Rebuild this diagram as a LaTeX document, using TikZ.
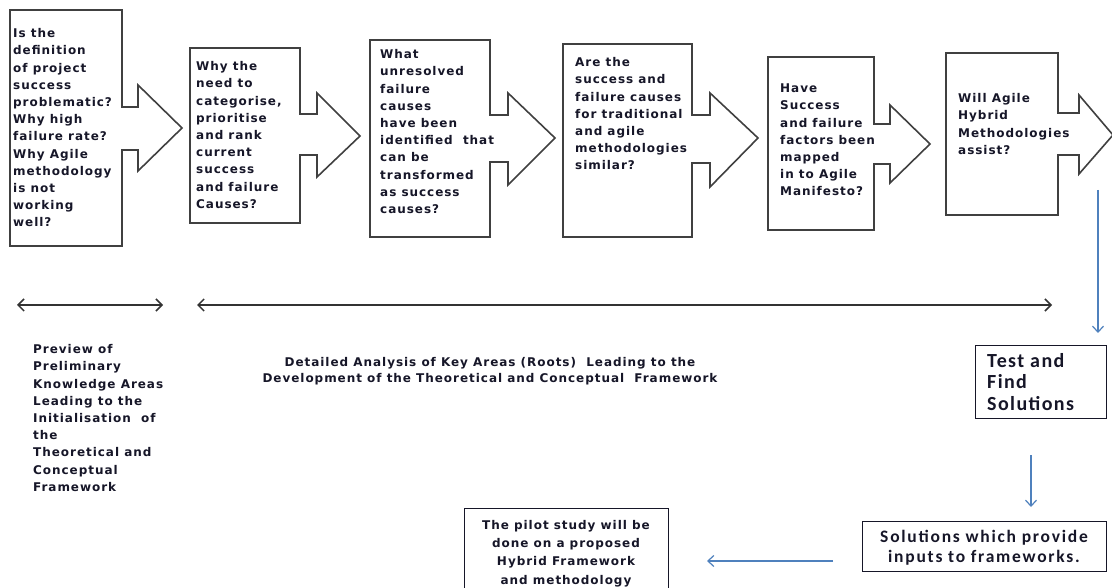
\documentclass[tikz,border=0pt]{standalone}
\usepackage{fontspec}
\setmainfont{DejaVu Sans}
\newfontfamily\vfont[LetterSpace=8]{DejaVu Sans}
\newfontfamily\cfont[LetterSpace=7]{Carlito}
\newfontfamily\sfont[LetterSpace=10]{Carlito}
\usetikzlibrary{arrows.meta}
\definecolor{txt}{RGB}{22,22,40}
\definecolor{outl}{RGB}{64,64,64}
\definecolor{blueline}{RGB}{79,129,189}
\newcommand{\fl}{\rule{0pt}{10pt}}
\tikzset{
  cshape/.style={draw=outl, line width=1.6pt, line join=miter, fill=white},
  qtext/.style={anchor=north west, align=left, inner sep=0pt, text=txt,
    font=\vfont\bfseries\fontsize{12}{17.2}\selectfont},
  ctext/.style={anchor=north, align=center, inner sep=0pt, text=txt,
    font=\vfont\bfseries\fontsize{12}{16}\selectfont},
  plainbox/.style={draw=txt, line width=1.3pt, fill=white},
  dblarrow/.style={draw=black!80, line width=1.5pt, {Straight Barb[length=6pt,width=12pt]}-{Straight Barb[length=6pt,width=12pt]}},
  bluearrow/.style={draw=blueline, line width=1.2pt, -{Straight Barb[length=6pt,width=11pt]}}
}
\begin{document}
\begin{tikzpicture}[x=1pt,y=-1pt]
\useasboundingbox (0,0) rectangle (1112,588);
\clip (0,0) rectangle (1112,588);
\fill[white] (0,0) rectangle (1112,588);

% callout boxes
\draw[cshape] (10,10) -- (122,10) -- (122,107) -- (138,107) -- (138,85) -- (182,128) -- (138,171) -- (138,150) -- (122,150) -- (122,246) -- (10,246) -- cycle;
\draw[cshape] (190,48) -- (300,48) -- (300,114) -- (317,114) -- (317,93) -- (360,136) -- (317,177) -- (317,155) -- (300,155) -- (300,223) -- (190,223) -- cycle;
\draw[cshape] (370,40) -- (490,40) -- (490,115) -- (508,115) -- (508,93) -- (555,138) -- (508,185) -- (508,162) -- (490,162) -- (490,237) -- (370,237) -- cycle;
\draw[cshape] (563,44) -- (692,44) -- (692,115) -- (710,115) -- (710,93) -- (758,138) -- (710,187) -- (710,163) -- (692,163) -- (692,237) -- (563,237) -- cycle;
\draw[cshape] (768,57) -- (874,57) -- (874,124) -- (890,124) -- (890,105) -- (930,144) -- (890,183) -- (890,164) -- (874,164) -- (874,230) -- (768,230) -- cycle;
\draw[cshape] (946,53) -- (1058,53) -- (1058,113) -- (1079,113) -- (1079,95) -- (1113,135) -- (1079,174) -- (1079,155) -- (1058,155) -- (1058,215) -- (946,215) -- cycle;

\node[qtext] (q1) at (13,27.5) {\fl Is the\\definition\\of project\\success\\problematic?\\Why high\\failure rate?\\Why Agile\\methodology\\is not\\working\\well?};
\node[qtext] (q2) at (196,60.5) {\fl Why the\\need to\\categorise,\\prioritise\\and rank\\current\\success\\and failure\\Causes?};
\node[qtext] (q3) at (380,48.5) {\fl What\\unresolved\\failure\\causes\\have been\\identified\ \ that\\can be\\transformed\\as success\\causes?};
\node[qtext] (q4) at (575,56.5) {\fl Are the\\success and\\failure causes\\for traditional\\and agile\\methodologies\\similar?};
\node[qtext] (q5) at (780,82.5) {\fl Have\\Success\\and failure\\factors been\\mapped\\in to Agile\\Manifesto?};
\node[qtext] (q6) at (958,92.5) {\fl Will Agile\\Hybrid\\Methodologies\\assist?};

% double arrows
\coordinate (a1l) at (17,305);
\coordinate (a1r) at (163,305);
\coordinate (a2l) at (197,305);
\coordinate (a2r) at (1052,305);
\draw[dblarrow] (a1l) -- (a1r);
\draw[dblarrow] (a2l) -- (a2r);

\node[qtext] (prev) at (33,343.5) {\fl Preview of\\Preliminary\\Knowledge Areas\\Leading to the\\Initialisation\ \ of\\the\\Theoretical and\\Conceptual\\Framework};
\node[ctext] (det) at (490,356.5) {\fl Detailed Analysis of Key Areas (Roots)\ \ Leading to the\\Development of the Theoretical and Conceptual\ \ Framework};

% right column
\node[plainbox, minimum width=131pt, minimum height=73pt, anchor=north west] (test) at (975,345) {};
\node[anchor=north west, align=left, inner sep=0pt, text=txt, font=\cfont\bfseries\fontsize{20}{21.5}\selectfont] (testt) at (987,351) {\rule{0pt}{16pt}Test and\\Find\\Solutions};

\node[plainbox, minimum width=244pt, minimum height=50pt, anchor=north west] (sol) at (862,521) {};
\node[anchor=north, align=center, inner sep=0pt, text=txt, font=\sfont\bfseries\fontsize{17.5}{19.5}\selectfont] (solt) at (984,528.5) {\rule{0pt}{14pt}Solutions which provide\\inputs to frameworks.};

\node[plainbox, minimum width=204pt, minimum height=90pt, anchor=north west] (pilot) at (464,508) {};
\node[ctext, font=\vfont\bfseries\fontsize{12}{18.3}\selectfont] (pilott) at (566,519) {\fl The pilot study will be\\done on a proposed\\Hybrid Framework\\and methodology};

\coordinate (b1s) at (1098,190);
\coordinate (b1e) at (1098,333);
\coordinate (b2s) at (1031,455);
\coordinate (b2e) at (1031,507);
\coordinate (b3s) at (833,561);
\coordinate (b3e) at (707,561);
\draw[bluearrow] (b1s) -- (b1e);
\draw[bluearrow] (b2s) -- (b2e);
\draw[bluearrow] (b3s) -- (b3e);
\end{tikzpicture}
\end{document}
